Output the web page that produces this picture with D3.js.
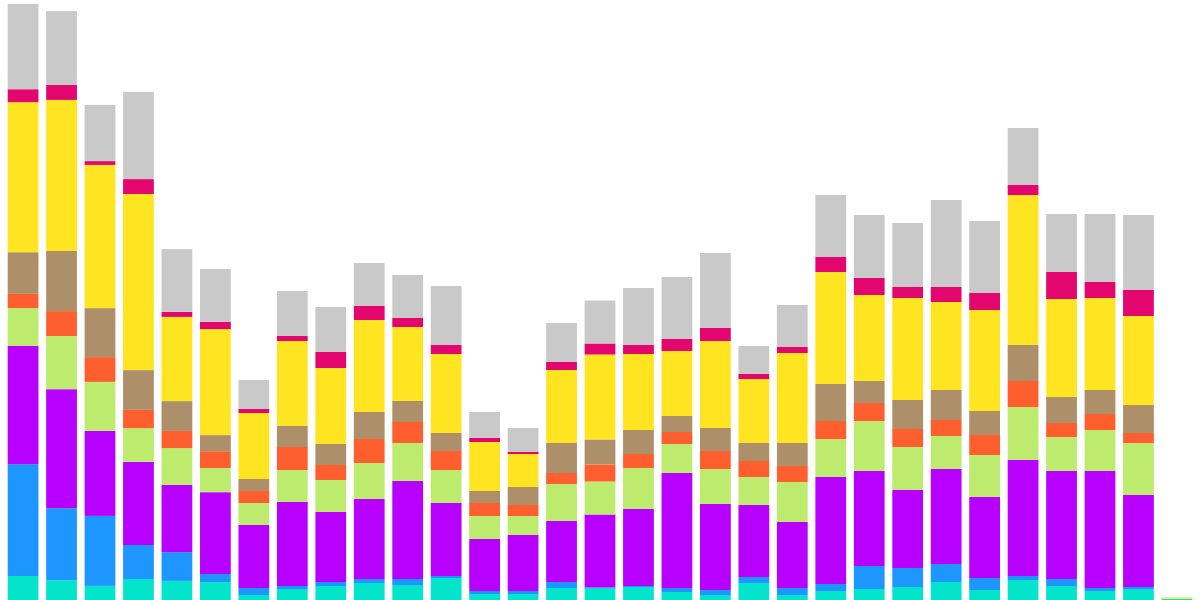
<!DOCTYPE html>
<html>
<head>
<meta charset="utf-8">
<script src="https://cdn.jsdelivr.net/npm/d3@7"></script>
<style>
  html, body { margin: 0; padding: 0; background: #fff; }
  svg { display: block; }
</style>
</head>
<body>
<div id="chart"></div>
<script>
//begin: data
var periods = d3.range(1, 32).map(function (i) { return "P" + i; });
var seriesNames = ["cyan", "blue", "purple", "green", "orange", "brown", "yellow", "magenta", "gray"];

var cyan    = [24, 19.8, 14.1, 21, 19.1, 17.9, 5, 11, 14, 17, 15, 22, 6, 6, 12, 12, 13, 8, 5, 17, 5, 9, 11, 13, 18, 10, 20, 14, 9, 11, 1];
var blue    = [111.8, 72, 70, 34, 28.7, 8.1, 7, 3, 4, 4, 6, 2, 3, 3, 6, 0.5, 1, 4, 5, 6, 7, 7, 23, 19, 18, 12, 4, 7, 3, 2, 0];
var purple  = [118.2, 119, 85, 83.1, 67.3, 81.8, 63, 84, 70, 80, 98, 73, 52, 56, 61, 73, 77, 115, 86, 72, 66, 107, 95, 78, 95, 81, 116, 108, 117, 92, 0];
var green   = [37.9, 53.2, 49, 33.7, 36.8, 24.2, 22, 32, 32, 36, 38, 33, 23, 19, 37, 33, 41, 29, 35, 28, 40, 38, 50, 43, 33, 42, 53, 34, 41, 52, 0.3];
var orange  = [14.2, 24.9, 24.8, 18.3, 17.2, 16.8, 12, 23, 15, 24, 21, 19, 13, 11, 11, 17, 14, 12, 18, 16, 16, 18, 18, 18, 16, 20, 26, 14, 16, 10, 0];
var brown   = [41.7, 60.1, 49, 39.8, 29.8, 16.1, 12, 21, 21, 27, 21, 18, 12, 18, 30, 25, 24, 16, 23, 18, 23, 37, 22, 29, 30, 24, 36, 26, 24, 28, 0];
var yellow  = [150, 151.1, 143.2, 176.1, 84.2, 106, 66, 85, 76, 92, 74, 79, 49, 33, 73, 85, 76, 65, 87, 64, 90, 112, 86, 102, 88, 101, 150, 98, 92, 89, 1.2];
var magenta = [13, 14.9, 3.8, 14.9, 5, 7.3, 4, 5, 16, 14, 9, 9, 4, 2, 8, 11, 9, 12, 13, 5, 6, 15, 17, 11, 15, 17, 10, 27, 16, 26, 0];
var gray    = [85.4, 73.9, 56.2, 87.3, 62.8, 52.8, 29, 45, 45, 43, 43, 59, 26, 24, 39, 43, 57, 62, 75, 28, 42, 62, 63, 64, 87, 72, 57, 58, 68, 75, 0.3];

var colors = ["#04e4ca", "#1e96ff", "#b800ff", "#bdeb6e", "#ff5f2f", "#ad8f69", "#ffe521", "#e2066e", "#c9c9c9"];
//end: data

var width = 1200, height = 600;

var table = periods.map(function (p, i) {
  return {
    period: p,
    cyan: cyan[i], blue: blue[i], purple: purple[i], green: green[i],
    orange: orange[i], brown: brown[i], yellow: yellow[i],
    magenta: magenta[i], gray: gray[i]
  };
});

var stacked = d3.stack().keys(seriesNames)(table);

var x = d3.scaleBand()
  .domain(periods)
  .range([0, width])
  .paddingInner(0.2)
  .paddingOuter(0.2);

var y = d3.scaleLinear()
  .domain([0, 600])
  .range([height, 0]);

var color = d3.scaleOrdinal().domain(seriesNames).range(colors);

var svg = d3.select("#chart")
  .append("svg")
  .attr("width", width)
  .attr("height", height);

var layers = svg.selectAll(".layer")
  .data(stacked)
  .enter()
  .append("g")
  .classed("layer", true)
  .style("fill", function (d) { return color(d.key); });

layers.selectAll("rect")
  .data(function (d) { return d; })
  .enter()
  .append("rect")
  .attr("x", function (d) { return x(d.data.period); })
  .attr("width", x.bandwidth())
  .attr("y", function (d) { return y(d[1]); })
  .attr("height", function (d) { return y(d[0]) - y(d[1]); });
</script>
</body>
</html>
